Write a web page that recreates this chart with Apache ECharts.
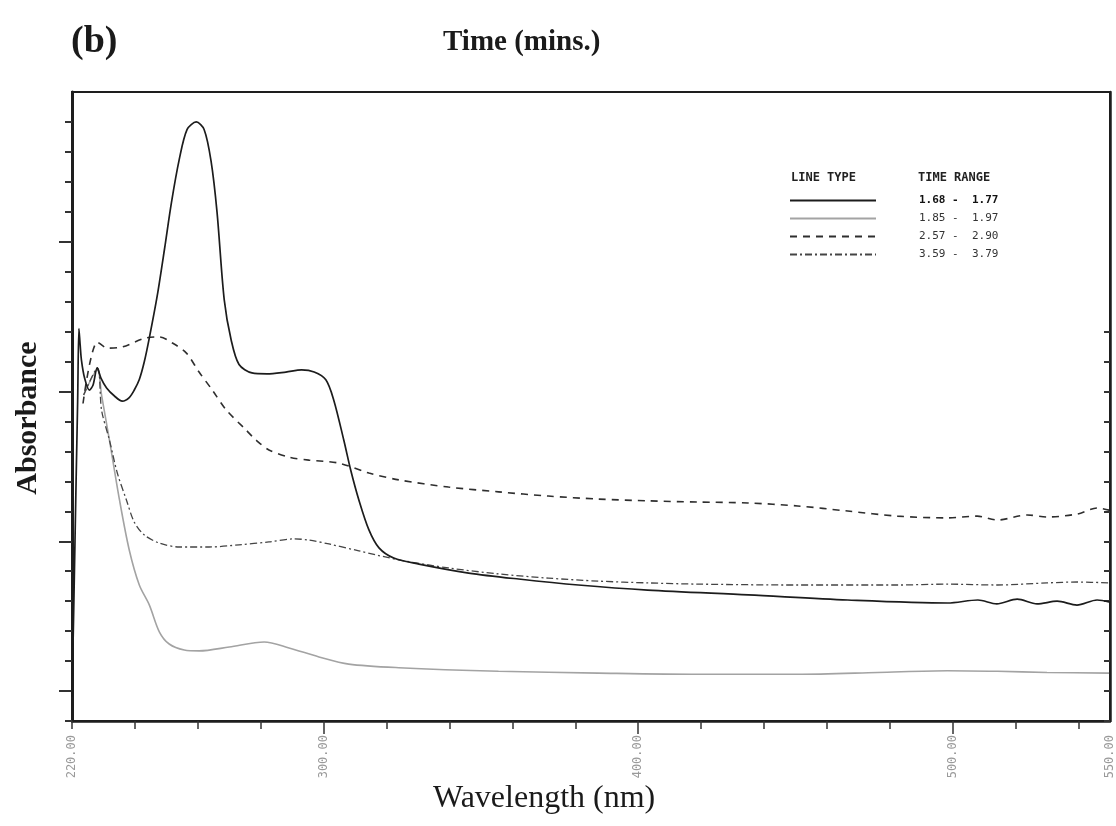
<!DOCTYPE html>
<html>
<head>
<meta charset="utf-8">
<script src="https://cdn.jsdelivr.net/npm/echarts@6/dist/echarts.min.js"></script>
<style>
html,body{margin:0;padding:0;background:#fff;}
#chart{width:1116px;height:826px;}
</style>
</head>
<body>
<div id="chart"></div>
<script>
// ---- data (absorbance in arbitrary units: 1 unit = one minor tick) ----
const seriesNames = ['1.68 -  1.77', '1.85 -  1.97', '2.57 -  2.90', '3.59 -  3.79'];

const wlA = [220.0,220.6,221.3,221.8,222.2,222.6,223.0,224.0,225.5,226.7,228.0,229.2,231.0,233.5,236.0,238.2,239.8,241.4,243.0,244.6,247.1,249.4,251.6,254.1,256.6,259.5,262.0,264.2,266.1,268.4,270.6,273.1,277.2,282.0,288.0,293.0,297.0,300.7,303.2,306.4,308.6,311.2,314.4,317.6,322.3,330.3,346.1,362.0,381.0,403.0,435.0,466.6,498.4,508.0,514.0,520.5,526.8,533.2,539.5,545.9,550.0];
const absA = [0.8,4.0,8.0,10.7,13.1,12.55,12.05,11.45,11.05,11.22,11.79,11.45,11.12,10.85,10.68,10.8,11.05,11.4,12.0,12.8,14.2,15.75,17.3,18.75,19.75,20.0,19.75,18.7,17.0,14.06,12.72,11.9,11.62,11.59,11.65,11.72,11.65,11.39,10.72,9.38,8.38,7.38,6.38,5.78,5.44,5.24,4.94,4.74,4.54,4.37,4.21,4.04,3.94,4.04,3.91,4.07,3.91,4.0,3.87,4.04,3.97];

const wlB = [223.7,228.1,229.4,231.9,235.1,238.2,241.4,244.6,247.8,250.9,255.7,260.4,270.0,281.1,289.0,298.5,308.0,323.9,355.6,387.3,419.0,450.7,476.1,498.3,514.2,530.0,549.7];
const absB = [10.88,11.72,10.88,9.38,7.38,5.71,4.54,3.87,2.97,2.57,2.37,2.34,2.47,2.64,2.44,2.14,1.9,1.78,1.66,1.6,1.56,1.56,1.62,1.68,1.66,1.62,1.6];

const wlC = [223.5,228.1,231.3,236.0,243.6,247.8,251.9,256.3,260.4,264.6,269.0,275.3,278.5,282.6,289.0,295.3,304.8,314.4,323.9,339.7,355.6,371.4,387.3,403.2,419.0,434.9,450.7,466.6,482.4,498.3,507.8,514.2,523.7,530.0,539.6,545.9,549.7];
const absC = [10.6,12.65,12.45,12.49,12.79,12.82,12.62,12.29,11.65,11.05,10.39,9.72,9.38,9.05,8.81,8.71,8.61,8.28,8.05,7.81,7.65,7.51,7.41,7.35,7.31,7.28,7.18,7.01,6.84,6.78,6.84,6.71,6.88,6.81,6.91,7.11,7.04];

const wlD = [223.7,228.1,229.4,231.9,234.4,237.3,239.8,243.0,247.8,254.1,263.6,273.1,282.6,290.6,295.3,301.7,311.2,323.9,339.7,355.6,371.4,387.3,403.2,419.0,450.7,482.4,498.3,514.2,530.0,539.6,549.7];
const absD = [10.88,11.79,10.38,9.38,8.28,7.38,6.64,6.21,5.94,5.81,5.81,5.88,5.98,6.08,6.04,5.91,5.68,5.38,5.11,4.91,4.77,4.67,4.61,4.57,4.54,4.54,4.57,4.54,4.61,4.64,4.61];

const xTickValues = [220,240,260,280,300,320,340,360,380,400,420,440,460,480,500,520,540];
const xMajorTicks = [300,400,500];
const xLabelValues = [220,300,400,500,550];
const yTickValues = [0,1,2,3,4,5,6,7,8,9,10,11,12,13,14,15,16,17,18,19,20];
const yMajorTicks = [1,6,11,16];
const yRightTicks = [0,1,2,3,4,5,6,7,8,9,10,11,12,13];

const pairs = (xs, ys) => xs.map((x, i) => [x, ys[i]]);

const chart = echarts.init(document.getElementById('chart'), null, {renderer: 'canvas'});
const axisColor = '#1e1e1e';
const mono = '"DejaVu Sans Mono", "Liberation Mono", monospace';
const serif = '"Liberation Serif", "DejaVu Serif", serif';

chart.setOption({
  backgroundColor: '#ffffff',
  animation: false,
  title: [
    {text: '(b)', left: 66, top: 18, textStyle: {fontFamily: serif, fontSize: 38, fontWeight: 'bold', color: '#1a1a1a'}},
    {text: 'Time (mins.)', left: 438, top: 23, textStyle: {fontFamily: serif, fontSize: 29, fontWeight: 'bold', color: '#1a1a1a'}},
    {text: 'Wavelength (nm)', left: 428, top: 778, textStyle: {fontFamily: serif, fontSize: 32, fontWeight: 'normal', color: '#1a1a1a'}}
  ],
  graphic: [
    {type: 'text', left: 791, top: 172, style: {text: 'LINE TYPE', font: 'bold 12px ' + mono, fill: '#222'}},
    {type: 'text', left: 918, top: 172, style: {text: 'TIME RANGE', font: 'bold 12px ' + mono, fill: '#222'}},
    {type: 'text', x: 28, y: 418, rotation: Math.PI / 2,
      style: {text: 'Absorbance', font: 'bold 30px ' + serif, fill: '#1a1a1a', align: 'center', verticalAlign: 'middle'}}
  ],
  legend: {
    orient: 'vertical',
    left: 789,
    top: 195,
    padding: 0,
    itemWidth: 86,
    itemHeight: 12,
    itemGap: 7,
    data: seriesNames,
    itemStyle: {color: 'rgba(0,0,0,0)', borderWidth: 0, opacity: 0},
    textStyle: {fontFamily: mono, fontSize: 11, color: '#333', padding: [0, 0, 0, 38],
      rich: {b: {fontFamily: mono, fontSize: 11, fontWeight: 'bold', color: '#111'}}},
    formatter: function (name) { return name === seriesNames[0] ? '{b|' + name + '}' : name; },
    selectedMode: false
  },
  grid: {left: 72, right: 3, top: 92, bottom: 105, show: true, borderColor: axisColor, borderWidth: 2, containLabel: false},
  xAxis: [
    {
      type: 'value', min: 220, max: 550, position: 'bottom',
      axisLine: {show: true, lineStyle: {color: axisColor, width: 2.5}},
      axisTick: {show: true, customValues: xTickValues, length: 8, inside: false, lineStyle: {color: '#333', width: 1.5}},
      axisLabel: {show: true, customValues: xLabelValues, rotate: 90, margin: 14, color: '#9a9a9a',
        fontFamily: mono, fontSize: 12, formatter: v => v.toFixed(2)},
      splitLine: {show: false}
    },
    {
      type: 'value', min: 220, max: 550, position: 'bottom',
      axisLine: {show: false},
      axisTick: {show: true, customValues: xMajorTicks, length: 13, lineStyle: {color: '#333', width: 1.5}},
      axisLabel: {show: false},
      splitLine: {show: false}
    }
  ],
  yAxis: [
    {
      type: 'value', min: 0, max: 21, position: 'left',
      axisLine: {show: true, lineStyle: {color: axisColor, width: 3}},
      axisTick: {show: true, customValues: yTickValues, length: 7, lineStyle: {color: '#333', width: 2}},
      axisLabel: {show: false},
      splitLine: {show: false}
    },
    {
      type: 'value', min: 0, max: 21, position: 'left',
      axisLine: {show: false},
      axisTick: {show: true, customValues: yMajorTicks, length: 13, lineStyle: {color: '#333', width: 2}},
      axisLabel: {show: false},
      splitLine: {show: false}
    },
    {
      type: 'value', min: 0, max: 21, position: 'right',
      axisLine: {show: true, lineStyle: {color: axisColor, width: 2.5}},
      axisTick: {show: true, inside: true, customValues: yRightTicks, length: 6, lineStyle: {color: '#333', width: 2}},
      axisLabel: {show: false},
      splitLine: {show: false}
    }
  ],
  series: [
    {name: seriesNames[0], type: 'line', xAxisIndex: 0, yAxisIndex: 0, data: pairs(wlA, absA), showSymbol: false, symbol: 'none', smooth: 0.3,
      lineStyle: {color: '#1c1c1c', width: 1.7, type: 'solid'}, itemStyle: {color: '#1c1c1c'}, z: 5},
    {name: seriesNames[1], type: 'line', xAxisIndex: 0, yAxisIndex: 0, data: pairs(wlB, absB), showSymbol: false, symbol: 'none', smooth: 0.3,
      lineStyle: {color: '#a3a3a3', width: 1.6, type: 'solid'}, itemStyle: {color: '#a3a3a3'}, z: 3},
    {name: seriesNames[2], type: 'line', xAxisIndex: 0, yAxisIndex: 0, data: pairs(wlC, absC), showSymbol: false, symbol: 'none', smooth: 0.3,
      lineStyle: {color: '#2e2e2e', width: 1.6, type: [7, 6]}, itemStyle: {color: '#2e2e2e'}, z: 4},
    {name: seriesNames[3], type: 'line', xAxisIndex: 0, yAxisIndex: 0, data: pairs(wlD, absD), showSymbol: false, symbol: 'none', smooth: 0.3,
      lineStyle: {color: '#444', width: 1.3, type: [7, 3, 2, 3]}, itemStyle: {color: '#444'}, z: 4}
  ]
});
</script>
</body>
</html>
